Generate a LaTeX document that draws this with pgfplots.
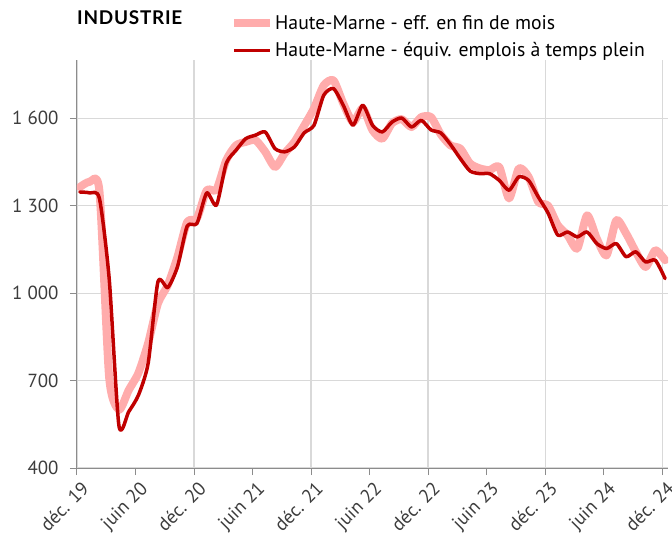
\documentclass[border=0pt]{standalone}
\usepackage{fontspec}
\setmainfont{PT Sans}
\newfontfamily\titlefont[LetterSpace=4]{Lato}
\usepackage{pgfplots}
\usepackage{pgfplotstable}
\pgfplotsset{compat=1.18}
\definecolor{pinkline}{RGB}{255,172,172}
\definecolor{redline}{RGB}{192,0,0}
\definecolor{gridgray}{RGB}{217,217,217}
\definecolor{axisgray}{RGB}{140,140,140}
\definecolor{txtgray}{RGB}{60,60,60}

\pgfplotstableread{
i eff etp
0 1364 1347
1 1382 1344
2 1350 1325
3 710 1050
4 600 545
5 667 593
6 726 650
7 829 760
8 965 1039
9 1027 1019
10 1124 1090
11 1244 1230
12 1257 1239
13 1353 1344
14 1355 1302
15 1456 1445
16 1507 1490
17 1519 1530
18 1525 1542
19 1485 1553
20 1433 1496
21 1480 1485
22 1519 1502
23 1575 1550
24 1634 1576
25 1713 1679
26 1730 1702
27 1651 1645
28 1587 1576
29 1634 1645
30 1559 1576
31 1530 1553
32 1583 1587
33 1597 1601
34 1570 1570
35 1604 1593
36 1604 1560
37 1545 1550
38 1507 1510
39 1496 1462
40 1445 1419
41 1428 1410
42 1422 1410
43 1433 1387
44 1325 1353
45 1428 1399
46 1399 1387
47 1313 1330
48 1300 1275
49 1233 1199
50 1199 1210
51 1153 1193
52 1267 1210
53 1187 1170
54 1130 1153
55 1250 1170
56 1205 1125
57 1142 1142
58 1090 1107
59 1147 1113
60 1113 1050
}\datatable

\begin{document}
\begin{tikzpicture}
\begin{axis}[
  scale only axis, width=591bp, height=408bp,
  xmin=-0.3, xmax=60.3, ymin=400, ymax=1800,
  axis x line*=bottom, axis y line*=left,
  axis line style={axisgray, line width=1bp, -},
  ytick={400,700,1000,1300,1600},
  yticklabels={400,700,1 000,1 300,1 600},
  grid=major, grid style={gridgray, line width=1.2bp},
  xtick={-0.3,11.7,23.7,35.7,47.7,59.7},
  xticklabels={déc. 19,déc. 20,déc. 21,déc. 22,déc. 23,déc. 24},
  extra x ticks={5.7,17.7,29.7,41.7,53.7},
  extra x tick labels={juin 20,juin 21,juin 22,juin 23,juin 24},
  extra x tick style={grid=none},
  tick align=outside, major tick length=7bp,
  tick style={axisgray, line width=1bp},
  ticklabel style={font=\fontsize{19}{22}\selectfont, text=txtgray},
  yticklabel style={xshift=-8bp},
  xticklabel style={rotate=45, anchor=north east, xshift=2bp, yshift=-3bp},
  /pgf/number format/assume math mode=true,
  legend style={draw=none, fill=none, at={(0.2657,1.1127)}, anchor=north west,
    font=\fontsize{19.8}{22}\selectfont, row sep=10bp, inner sep=0pt,
    nodes={inner sep=1bp}},
  legend cell align=left,
  legend image code/.code={\draw[#1, line cap=butt, overlay] (0bp,0bp) -- (36bp,0bp); \path[draw=none, fill=none] (0bp,-4bp) rectangle (40bp,4bp);},
]
\addplot[pinkline, line width=8bp, smooth, tension=0.4, line join=round, line cap=round] table[x=i, y=eff] {\datatable};
\addlegendentry{Haute-Marne - eff. en fin de mois}
\addplot[redline, line width=3.5bp, smooth, tension=0.4, line join=round, line cap=round] table[x=i, y=etp] {\datatable};
\addlegendentry{Haute-Marne - équiv. emplois à temps plein}
\end{axis}
\node[anchor=base west, inner sep=0pt, font=\titlefont\bfseries\fontsize{19}{21}\selectfont] at ([yshift=35bp]current axis.north west) {INDUSTRIE};
\pgfresetboundingbox
\path[use as bounding box] ([xshift=-77bp,yshift=-67bp]current axis.south west) rectangle ([xshift=4bp,yshift=60bp]current axis.north east);
\end{tikzpicture}
\end{document}
